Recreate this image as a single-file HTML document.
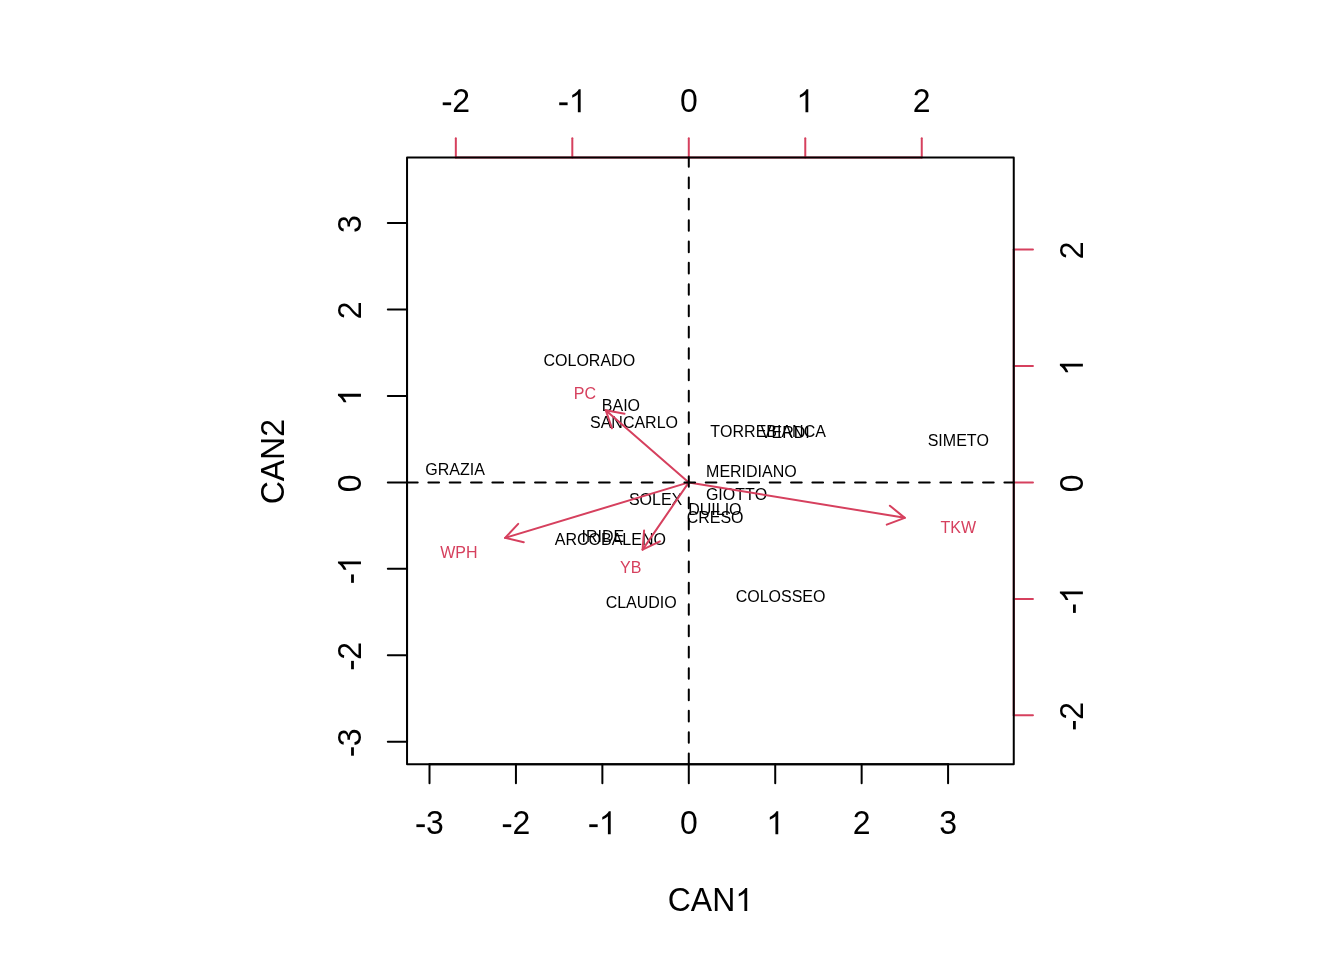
<!DOCTYPE html><html><head><meta charset="utf-8"><style>html,body{margin:0;padding:0;background:#fff;overflow:hidden}svg{display:block;will-change:transform}text{font-family:"Liberation Sans",sans-serif;font-kerning:none}.gp text{text-rendering:geometricPrecision}</style></head><body>
<svg width="1344" height="960" viewBox="0 0 1344 960">
<rect width="1344" height="960" fill="#fff"/>
<g font-size="16" text-anchor="middle" fill="#000">
<text x="589.32" y="366">COLORADO</text>
<text x="620.96" y="411">BAIO</text>
<text x="634.00" y="428">SANCARLO</text>
<text x="455.06" y="475">GRAZIA</text>
<text x="768.12" y="437">TORREBIANCA</text>
<text x="785.28" y="438">VERDI</text>
<text x="958.37" y="446">SIMETO</text>
<text x="751.40" y="477">MERIDIANO</text>
<text x="655.61" y="505">SOLEX</text>
<text x="736.57" y="500">GIOTTO</text>
<text x="714.87" y="515">DUILIO</text>
<text x="715.12" y="523">CRESO</text>
<text x="602.92" y="542">IRIDE</text>
<text x="610.36" y="545">ARCOBALENO</text>
<text x="641.20" y="608">CLAUDIO</text>
<text x="780.55" y="602">COLOSSEO</text>
</g>
<g stroke="#000" stroke-width="2.0" stroke-linecap="round" fill="none">
<line x1="429.51" y1="764.16" x2="948.08" y2="764.16"/>
<line x1="429.51" y1="764.16" x2="429.51" y2="783.36"/>
<line x1="515.94" y1="764.16" x2="515.94" y2="783.36"/>
<line x1="602.37" y1="764.16" x2="602.37" y2="783.36"/>
<line x1="688.79" y1="764.16" x2="688.79" y2="783.36"/>
<line x1="775.22" y1="764.16" x2="775.22" y2="783.36"/>
<line x1="861.65" y1="764.16" x2="861.65" y2="783.36"/>
<line x1="948.08" y1="764.16" x2="948.08" y2="783.36"/>
<line x1="407.04" y1="741.69" x2="407.04" y2="223.12"/>
<line x1="407.04" y1="741.69" x2="387.84" y2="741.69"/>
<line x1="407.04" y1="655.26" x2="387.84" y2="655.26"/>
<line x1="407.04" y1="568.83" x2="387.84" y2="568.83"/>
<line x1="407.04" y1="482.41" x2="387.84" y2="482.41"/>
<line x1="407.04" y1="395.98" x2="387.84" y2="395.98"/>
<line x1="407.04" y1="309.55" x2="387.84" y2="309.55"/>
<line x1="407.04" y1="223.12" x2="387.84" y2="223.12"/>
</g>
<g font-size="32" text-anchor="middle" fill="#000">
<g transform="translate(429.51,834.18) scale(1,1.035)"><path transform="translate(-14.23,0) scale(0.015625,-0.015097)" d="M72 452L610 452L610 632L72 632Z"/><text x="-3.57" y="0" text-anchor="start">3</text></g>
<g transform="translate(515.94,834.18) scale(1,1.035)"><path transform="translate(-14.23,0) scale(0.015625,-0.015097)" d="M72 452L610 452L610 632L72 632Z"/><text x="-3.57" y="0" text-anchor="start">2</text></g>
<g transform="translate(602.37,834.18) scale(1,1.035)"><path transform="translate(-14.23,0) scale(0.015625,-0.015097)" d="M72 452L610 452L610 632L72 632Z"/><path transform="translate(-3.57,0) scale(0.015625,-0.015097)" d="M763 0L583 0L583 1147Q518 1085 412 1023Q306 961 223 930L223 1104Q373 1175 485 1276Q597 1377 644 1472L763 1472Z"/></g>
<g transform="translate(688.79,834.18) scale(1,1.035)"><text x="-8.90" y="0" text-anchor="start">0</text></g>
<g transform="translate(775.22,834.18) scale(1,1.035)"><path transform="translate(-8.90,0) scale(0.015625,-0.015097)" d="M763 0L583 0L583 1147Q518 1085 412 1023Q306 961 223 930L223 1104Q373 1175 485 1276Q597 1377 644 1472L763 1472Z"/></g>
<g transform="translate(861.65,834.18) scale(1,1.035)"><text x="-8.90" y="0" text-anchor="start">2</text></g>
<g transform="translate(948.08,834.18) scale(1,1.035)"><text x="-8.90" y="0" text-anchor="start">3</text></g>
<g transform="translate(360.96,742.59) rotate(-90) scale(1,1.035)"><path transform="translate(-14.23,0) scale(0.015625,-0.015097)" d="M72 452L610 452L610 632L72 632Z"/><text x="-3.57" y="0" text-anchor="start">3</text></g>
<g transform="translate(360.96,656.16) rotate(-90) scale(1,1.035)"><path transform="translate(-14.23,0) scale(0.015625,-0.015097)" d="M72 452L610 452L610 632L72 632Z"/><text x="-3.57" y="0" text-anchor="start">2</text></g>
<g transform="translate(360.96,569.73) rotate(-90) scale(1,1.035)"><path transform="translate(-14.23,0) scale(0.015625,-0.015097)" d="M72 452L610 452L610 632L72 632Z"/><path transform="translate(-3.57,0) scale(0.015625,-0.015097)" d="M763 0L583 0L583 1147Q518 1085 412 1023Q306 961 223 930L223 1104Q373 1175 485 1276Q597 1377 644 1472L763 1472Z"/></g>
<g transform="translate(360.96,483.31) rotate(-90) scale(1,1.035)"><text x="-8.90" y="0" text-anchor="start">0</text></g>
<g transform="translate(360.96,396.88) rotate(-90) scale(1,1.035)"><path transform="translate(-8.90,0) scale(0.015625,-0.015097)" d="M763 0L583 0L583 1147Q518 1085 412 1023Q306 961 223 930L223 1104Q373 1175 485 1276Q597 1377 644 1472L763 1472Z"/></g>
<g transform="translate(360.96,310.45) rotate(-90) scale(1,1.035)"><text x="-8.90" y="0" text-anchor="start">2</text></g>
<g transform="translate(360.96,224.02) rotate(-90) scale(1,1.035)"><text x="-8.90" y="0" text-anchor="start">3</text></g>
<g transform="translate(710.40,910.98) scale(1,1.035)"><text x="-42.68" y="0" text-anchor="start">CAN</text><path transform="translate(24.88,0) scale(0.015625,-0.015097)" d="M763 0L583 0L583 1147Q518 1085 412 1023Q306 961 223 930L223 1104Q373 1175 485 1276Q597 1377 644 1472L763 1472Z"/></g>
<text transform="translate(284.16,461.70) rotate(-90) scale(1,1.035)">CAN2</text>
<g transform="translate(455.83,112.26) scale(1,1.035)"><path transform="translate(-14.23,0) scale(0.015625,-0.015097)" d="M72 452L610 452L610 632L72 632Z"/><text x="-3.57" y="0" text-anchor="start">2</text></g>
<g transform="translate(572.31,112.26) scale(1,1.035)"><path transform="translate(-14.23,0) scale(0.015625,-0.015097)" d="M72 452L610 452L610 632L72 632Z"/><path transform="translate(-3.57,0) scale(0.015625,-0.015097)" d="M763 0L583 0L583 1147Q518 1085 412 1023Q306 961 223 930L223 1104Q373 1175 485 1276Q597 1377 644 1472L763 1472Z"/></g>
<g transform="translate(688.79,112.26) scale(1,1.035)"><text x="-8.90" y="0" text-anchor="start">0</text></g>
<g transform="translate(805.27,112.26) scale(1,1.035)"><path transform="translate(-8.90,0) scale(0.015625,-0.015097)" d="M763 0L583 0L583 1147Q518 1085 412 1023Q306 961 223 930L223 1104Q373 1175 485 1276Q597 1377 644 1472L763 1472Z"/></g>
<g transform="translate(921.75,112.26) scale(1,1.035)"><text x="-8.90" y="0" text-anchor="start">2</text></g>
<g transform="translate(1082.88,716.27) rotate(-90) scale(1,1.035)"><path transform="translate(-14.23,0) scale(0.015625,-0.015097)" d="M72 452L610 452L610 632L72 632Z"/><text x="-3.57" y="0" text-anchor="start">2</text></g>
<g transform="translate(1082.88,599.79) rotate(-90) scale(1,1.035)"><path transform="translate(-14.23,0) scale(0.015625,-0.015097)" d="M72 452L610 452L610 632L72 632Z"/><path transform="translate(-3.57,0) scale(0.015625,-0.015097)" d="M763 0L583 0L583 1147Q518 1085 412 1023Q306 961 223 930L223 1104Q373 1175 485 1276Q597 1377 644 1472L763 1472Z"/></g>
<g transform="translate(1082.88,483.31) rotate(-90) scale(1,1.035)"><text x="-8.90" y="0" text-anchor="start">0</text></g>
<g transform="translate(1082.88,366.83) rotate(-90) scale(1,1.035)"><path transform="translate(-8.90,0) scale(0.015625,-0.015097)" d="M763 0L583 0L583 1147Q518 1085 412 1023Q306 961 223 930L223 1104Q373 1175 485 1276Q597 1377 644 1472L763 1472Z"/></g>
<g transform="translate(1082.88,250.35) rotate(-90) scale(1,1.035)"><text x="-8.90" y="0" text-anchor="start">2</text></g>
</g>
<g stroke="#D6405E" stroke-width="2.0" stroke-linecap="round" fill="none">
<line x1="455.83" y1="157.44" x2="921.75" y2="157.44"/>
<line x1="455.83" y1="157.44" x2="455.83" y2="138.24"/>
<line x1="572.31" y1="157.44" x2="572.31" y2="138.24"/>
<line x1="688.79" y1="157.44" x2="688.79" y2="138.24"/>
<line x1="805.27" y1="157.44" x2="805.27" y2="138.24"/>
<line x1="921.75" y1="157.44" x2="921.75" y2="138.24"/>
<line x1="1013.76" y1="715.37" x2="1013.76" y2="249.45"/>
<line x1="1013.76" y1="715.37" x2="1032.96" y2="715.37"/>
<line x1="1013.76" y1="598.89" x2="1032.96" y2="598.89"/>
<line x1="1013.76" y1="482.41" x2="1032.96" y2="482.41"/>
<line x1="1013.76" y1="365.93" x2="1032.96" y2="365.93"/>
<line x1="1013.76" y1="249.45" x2="1032.96" y2="249.45"/>
</g>
<rect x="407.04" y="157.44" width="606.72" height="606.72" fill="none" stroke="#000" stroke-width="2.0" stroke-linejoin="round"/>
<g font-size="16" text-anchor="middle" fill="#D6405E">
<text x="584.93" y="399">PC</text>
<text x="458.84" y="558">WPH</text>
<text x="630.66" y="573">YB</text>
<text x="958.33" y="533">TKW</text>
</g>
<g stroke="#D6405E" stroke-width="2.0" stroke-linecap="round" stroke-linejoin="round" fill="none">
<line x1="688.79" y1="482.41" x2="605.70" y2="410.16"/>
<polyline points="611.95,428.32 605.70,410.16 624.55,413.83"/>
<line x1="688.79" y1="482.41" x2="505.07" y2="537.86"/>
<polyline points="523.77,542.25 505.07,537.86 518.22,523.87"/>
<line x1="688.79" y1="482.41" x2="642.59" y2="549.66"/>
<polyline points="659.91,541.39 642.59,549.66 644.09,530.52"/>
<line x1="688.79" y1="482.41" x2="904.74" y2="517.86"/>
<polyline points="889.89,505.69 904.74,517.86 886.78,524.64"/>
</g>
<g stroke="#000" stroke-width="2.0" stroke-dasharray="10.667 10.667" stroke-linecap="round" fill="none">
<line x1="407.04" y1="482.41" x2="1013.76" y2="482.41"/>
<line x1="688.79" y1="764.16" x2="688.79" y2="157.44"/>
</g>
</svg></body></html>
